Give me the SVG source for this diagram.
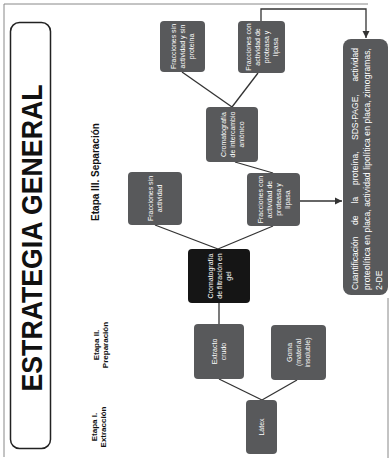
<svg xmlns="http://www.w3.org/2000/svg" width="390" height="460" viewBox="0 0 390 460">
<defs>
<marker id="arr" markerWidth="8" markerHeight="8" refX="7" refY="4" orient="auto" markerUnits="userSpaceOnUse">
<path d="M0,0.5 L7,4 L0,7.5 z" fill="#333"/>
</marker>
<style>
.node{fill:#58595b;}
.dark{fill:#151515;}
.nt{font-family:"Liberation Sans",Arial,sans-serif;font-size:7px;fill:#fff;text-anchor:middle;}
.ct{font-family:"Liberation Sans",Arial,sans-serif;font-size:8.5px;fill:#fff;}
.lbl{font-family:"Liberation Sans",Arial,sans-serif;font-size:8px;font-weight:bold;fill:#111;text-anchor:middle;}
.con{fill:none;stroke:#333;stroke-width:1.3;}
.frame{fill:none;stroke:#888;stroke-width:1;}
</style>
</defs>
<rect width="390" height="460" fill="#fff"/>
<polyline class="frame" points="4,457 4,4 368,4"/>
<line class="frame" x1="388" y1="298" x2="388" y2="458"/>

<g id="title">
<rect x="10.5" y="22.5" width="40" height="426" rx="9" fill="#fff" stroke="#222" stroke-width="1.5"/>
<text transform="translate(42,238) rotate(-90)" font-family="'Liberation Sans',Arial,sans-serif" font-size="30" font-weight="bold" text-anchor="middle" textLength="307" lengthAdjust="spacingAndGlyphs" fill="#111">ESTRATEGIA GENERAL</text>
</g>

<g id="etapa1"><text class="lbl" transform="translate(94,427) rotate(-90)"><tspan x="0" y="3">Etapa I.</tspan><tspan x="0" y="12">Extracción</tspan></text></g>
<g id="etapa2"><text class="lbl" transform="translate(96,345) rotate(-90)"><tspan x="0" y="3">Etapa II.</tspan><tspan x="0" y="12">Preparación</tspan></text></g>
<g id="etapa3"><text class="lbl" transform="translate(95,172) rotate(-90)" style="font-size:10px"><tspan x="0" y="3.5">Etapa III. Separación</tspan></text></g>

<g id="connectors">
<line class="con" x1="262" y1="400" x2="219" y2="379"/>
<line class="con" x1="262" y1="400" x2="297" y2="380"/>
<line class="con" x1="219" y1="303" x2="219" y2="324"/>
<line class="con" x1="218" y1="249" x2="155" y2="225"/>
<line class="con" x1="218" y1="249" x2="273" y2="226"/>
<line class="con" x1="273" y1="173" x2="235" y2="162"/>
<line class="con" x1="232" y1="107" x2="182" y2="72"/>
<line class="con" x1="232" y1="107" x2="258" y2="73"/>
<polyline class="con" points="261,21 261,9 366,9 366,38" marker-end="url(#arr)" stroke-width="1"/>
<line class="con" x1="300" y1="201" x2="342" y2="201" marker-end="url(#arr)"/>
</g>

<g id="latex">
<rect class="node" x="246" y="400" width="31" height="54" rx="4"/>
<text class="nt" transform="translate(261.5,427) rotate(-90)"><tspan x="0" y="2.5">Látex</tspan></text>
</g>
<g id="extracto">
<rect class="node" x="194" y="324" width="50" height="55" rx="4"/>
<text class="nt" transform="translate(219,351.5) rotate(-90)"><tspan x="0" y="-2">Extracto</tspan><tspan x="0" y="7">crudo</tspan></text>
</g>
<g id="goma">
<rect class="node" x="271" y="325" width="55" height="55" rx="4"/>
<text class="nt" transform="translate(298.5,352.5) rotate(-90)"><tspan x="0" y="-6.5">Goma</tspan><tspan x="0" y="2.5">(material</tspan><tspan x="0" y="11.5">insoluble)</tspan></text>
</g>
<g id="cromFiltracion">
<rect class="dark" x="188" y="249" width="62" height="54" rx="4"/>
<text class="nt" transform="translate(219,276) rotate(-90)"><tspan x="0" y="-6.5">Cromatografía</tspan><tspan x="0" y="2.5">de filtración en</tspan><tspan x="0" y="11.5">gel</tspan></text>
</g>
<g id="fraccSin">
<rect class="node" x="128" y="172" width="54" height="53" rx="4"/>
<text class="nt" transform="translate(155,198.5) rotate(-90)"><tspan x="0" y="-2">Fracciones sin</tspan><tspan x="0" y="7">actividad</tspan></text>
</g>
<g id="fraccCon1">
<rect class="node" x="247" y="173" width="53" height="53" rx="4"/>
<text class="nt" transform="translate(273.5,199.5) rotate(-90)"><tspan x="0" y="-11">Fracciones con</tspan><tspan x="0" y="-2">actividad de</tspan><tspan x="0" y="7">proteasa y</tspan><tspan x="0" y="16">lipasa</tspan></text>
</g>
<g id="cromIntercambio">
<rect class="node" x="206" y="107" width="52" height="55" rx="4"/>
<text class="nt" transform="translate(232,134.5) rotate(-90)"><tspan x="0" y="-6.5">Cromatografía</tspan><tspan x="0" y="2.5">de intercambio</tspan><tspan x="0" y="11.5">aniónico</tspan></text>
</g>
<g id="fraccSinSin">
<rect class="node" x="160" y="21" width="45" height="51" rx="4"/>
<text class="nt" transform="translate(182.5,46.5) rotate(-90)"><tspan x="0" y="-6.5">Fracciones sin</tspan><tspan x="0" y="2.5">actividad y sin</tspan><tspan x="0" y="11.5">proteína</tspan></text>
</g>
<g id="fraccCon2">
<rect class="node" x="238" y="21" width="47" height="52" rx="4"/>
<text class="nt" transform="translate(261.5,47) rotate(-90)"><tspan x="0" y="-11">Fracciones con</tspan><tspan x="0" y="-2">actividad de</tspan><tspan x="0" y="7">proteasa y</tspan><tspan x="0" y="16">lipasa</tspan></text>
</g>
<g id="cuantificacion">
<rect class="node" x="343" y="39" width="45" height="256" rx="8"/>
<text class="ct" transform="translate(351,290) rotate(-90)">
<tspan x="0" y="7">Cuantificación</tspan><tspan x="65" y="7">de</tspan><tspan x="86.5" y="7">la</tspan><tspan x="105" y="7">proteína,</tspan><tspan x="150" y="7">SDS-PAGE,</tspan><tspan x="208.5" y="7">actividad</tspan>
<tspan x="0" y="19" textLength="242" lengthAdjust="spacing">proteolítica en placa, actividad lipolítica en placa, zimogramas,</tspan>
<tspan x="0" y="31">2-DE</tspan>
</text>
</g>
</svg>
